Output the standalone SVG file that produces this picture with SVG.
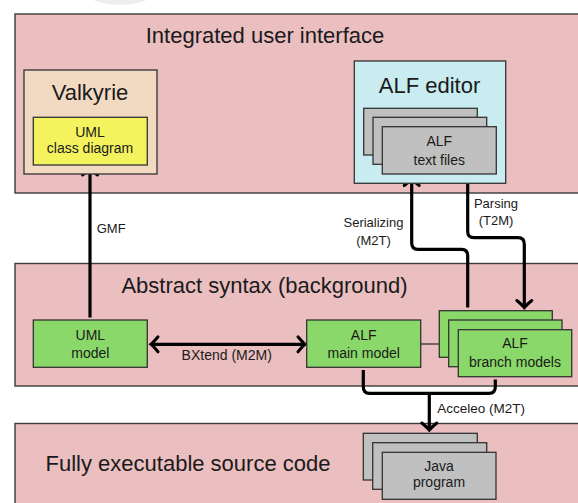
<svg xmlns="http://www.w3.org/2000/svg" width="578" height="503" viewBox="0 0 578 503">
  <defs>
    <style>
      text { font-family: "Liberation Sans", Arial, sans-serif; fill: #1a1a1a; }
      .panel { fill: #ebbec0; stroke: #3a3a3a; stroke-width: 1.4; }
      .box { stroke: #333; stroke-width: 1.3; }
      .valk { fill: #f1d9c2; }
      .yellow { fill: #f4f35e; }
      .cyan { fill: #c8ecf0; }
      .gray { fill: #c0c0c0; }
      .green { fill: #8ad869; }
      .title { font-size: 22px; }
      .node { font-size: 14px; text-anchor: middle; }
      .small { font-size: 13px; }
      .wire { fill: none; stroke: #000; stroke-width: 3.2; }
      .thin { fill: none; stroke: #333; stroke-width: 1.3; }
    </style>
    <marker id="head" markerUnits="userSpaceOnUse" markerWidth="20" markerHeight="20" refX="0" refY="0" orient="auto-start-reverse" overflow="visible">
      <path d="M-7,-7.5 Q-2,-1.5 0,0 Q-2,1.5 -7,7.5" fill="none" stroke="#000" stroke-width="3" stroke-linecap="round"/>
    </marker>
  </defs>

  <!-- soft smudge at the top edge -->
  <circle cx="120" cy="-70" r="75" fill="#ededed"/>

  <!-- layers -->
  <g id="layer-ui">
    <rect class="panel" x="15" y="14" width="580" height="179"/>
    <text class="title" x="265" y="43" text-anchor="middle">Integrated user interface</text>
  </g>
  <g id="layer-abstract">
    <rect class="panel" x="15" y="263.5" width="580" height="122.5"/>
    <text class="title" x="264.5" y="293" text-anchor="middle">Abstract syntax (background)</text>
  </g>
  <g id="layer-code">
    <rect class="panel" x="15" y="423.5" width="580" height="100"/>
    <text class="title" x="188" y="471" text-anchor="middle">Fully executable source code</text>
  </g>

  <!-- connectors -->
  <g id="connectors">
    <path class="wire" d="M90,317.5 V168" marker-end="url(#head)"/>
    <path class="wire" d="M467.7,307.5 V255.5 Q467.7,249.3 461.5,249.3 H418 Q411.7,249.3 411.7,243 V178.5" marker-end="url(#head)"/>
    <path class="wire" d="M467.7,177 V231.5 Q467.7,237.7 474,237.7 H518 Q524.3,237.7 524.3,244 V307.5" marker-end="url(#head)"/>
    <path class="wire" d="M151,344.3 H305" marker-start="url(#head)" marker-end="url(#head)"/>
    <path class="thin" d="M420.7,344 H439.3"/>
    <path class="wire" d="M363.3,370 V387 Q363.3,393.3 369.6,393.3 H489 Q495.3,393.3 495.3,387 V379.5"/>
    <path class="wire" d="M429.3,393.3 V430" marker-end="url(#head)"/>
    <text class="small" x="96.7" y="233.3">GMF</text>
    <text class="small" x="373.5" y="226.7" text-anchor="middle">Serializing</text>
    <text class="small" x="373.5" y="245" text-anchor="middle">(M2T)</text>
    <text class="small" x="496" y="208.3" text-anchor="middle">Parsing</text>
    <text class="small" x="496" y="225" text-anchor="middle">(T2M)</text>
    <text x="226.7" y="360" font-size="14" text-anchor="middle">BXtend (M2M)</text>
    <text x="437.3" y="413.3" font-size="13.5">Acceleo (M2T)</text>
  </g>

  <!-- nodes -->
  <g id="valkyrie">
    <rect class="box valk" x="24" y="70" width="133" height="104"/>
    <text class="title" x="90" y="100" text-anchor="middle">Valkyrie</text>
  </g>
  <g id="uml-class-diagram">
    <rect class="box yellow" x="33.3" y="117.3" width="114" height="47.7"/>
    <text class="node" x="90" y="137">UML</text>
    <text class="node" x="90" y="153">class diagram</text>
  </g>

  <g id="alf-editor">
    <rect class="box cyan" x="354.3" y="61" width="151.4" height="122.3"/>
    <text class="title" x="429.5" y="92.7" text-anchor="middle">ALF editor</text>
  </g>
  <g id="alf-text-files">
    <rect class="box gray" x="363.7" y="108.3" width="113.6" height="46.7"/>
    <rect class="box gray" x="373" y="117.3" width="113.7" height="47"/>
    <rect class="box gray" x="382.3" y="126.7" width="114" height="47.3"/>
    <text class="node" x="439.3" y="145.7" font-size="13.5">ALF</text>
    <text class="node" x="439.3" y="164.7" font-size="13.5">text files</text>
  </g>

  <g id="uml-model">
    <rect class="box green" x="33.3" y="320" width="114" height="47.3"/>
    <text class="node" x="90.3" y="340">UML</text>
    <text class="node" x="90.3" y="358.3">model</text>
  </g>
  <g id="alf-main-model">
    <rect class="box green" x="306.7" y="320" width="114" height="47.3"/>
    <text class="node" x="363.7" y="340">ALF</text>
    <text class="node" x="363.7" y="358.3">main model</text>
  </g>
  <g id="alf-branch-models">
    <rect class="box green" x="439.3" y="310.7" width="113" height="46.6"/>
    <rect class="box green" x="448.7" y="320" width="113.3" height="46.7"/>
    <rect class="box green" x="458.3" y="329.7" width="113.4" height="47"/>
    <text class="node" x="515" y="348.3">ALF</text>
    <text class="node" x="515" y="366.7">branch models</text>
  </g>

  <g id="java-program">
    <rect class="box gray" x="363.3" y="433.3" width="114" height="46.7"/>
    <rect class="box gray" x="372.7" y="442.7" width="114" height="46.6"/>
    <rect class="box gray" x="382.3" y="452.3" width="113.7" height="47"/>
    <text class="node" x="439" y="471.3" font-size="11.5">Java</text>
    <text class="node" x="439" y="487.3" font-size="11.5">program</text>
  </g>
</svg>
